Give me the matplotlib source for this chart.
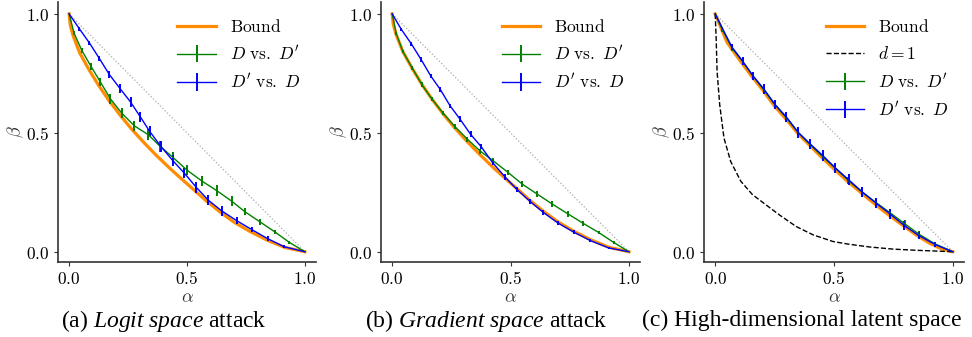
import numpy as np
import matplotlib
matplotlib.use("Agg")
import matplotlib.pyplot as plt

plt.rcParams["mathtext.fontset"] = "cm"
plt.rcParams["mathtext.rm"] = "Liberation Serif"
plt.rcParams["mathtext.it"] = "Liberation Serif:italic"

# ---- data ----
tick_vals = [0.0, 0.5, 1.0]
tick_labels = [r"$0.0$", r"$0.5$", r"$1.0$"]

# (a) logit space attack
bound_a_x = [0, 0.005, 0.017, 0.045, 0.085, 0.126, 0.168, 0.215, 0.264, 0.318, 0.372, 0.427, 0.477, 0.526, 0.583, 0.639, 0.70, 0.766, 0.837, 0.915, 1.0]
bound_a_y = [1.0, 0.952, 0.908, 0.836, 0.764, 0.698, 0.637, 0.576, 0.517, 0.458, 0.403, 0.351, 0.306, 0.263, 0.213, 0.168, 0.124, 0.086, 0.050, 0.018, 0.0]
green_a_x = [0, 0.021, 0.054, 0.093, 0.133, 0.175, 0.223, 0.277, 0.336, 0.386, 0.439, 0.499, 0.562, 0.626, 0.689, 0.746, 0.809, 0.873, 0.933, 1.0]
green_a_y = [1.0, 0.919, 0.846, 0.779, 0.713, 0.643, 0.583, 0.529, 0.492, 0.443, 0.398, 0.344, 0.298, 0.257, 0.213, 0.168, 0.126, 0.083, 0.040, 0.0]
green_a_err = [0, 0.008, 0.012, 0.015, 0.018, 0.02, 0.022, 0.022, 0.022, 0.022, 0.022, 0.022, 0.022, 0.022, 0.02, 0.015, 0.012, 0.008, 0.006, 0]
blue_a_x = [0, 0.043, 0.086, 0.128, 0.170, 0.216, 0.261, 0.302, 0.341, 0.389, 0.439, 0.489, 0.540, 0.590, 0.647, 0.710, 0.775, 0.842, 0.912, 1.0]
blue_a_y = [1.0, 0.938, 0.878, 0.813, 0.746, 0.686, 0.629, 0.567, 0.507, 0.443, 0.384, 0.330, 0.270, 0.217, 0.172, 0.131, 0.093, 0.055, 0.021, 0.0]
blue_a_err = [0, 0.008, 0.01, 0.012, 0.015, 0.018, 0.02, 0.02, 0.02, 0.022, 0.022, 0.022, 0.022, 0.022, 0.02, 0.016, 0.012, 0.01, 0.006, 0]

# (b) gradient space attack
bound_b_x = [0, 0.005, 0.017, 0.045, 0.085, 0.126, 0.168, 0.215, 0.264, 0.318, 0.372, 0.427, 0.477, 0.526, 0.583, 0.639, 0.70, 0.766, 0.837, 0.915, 1.0]
bound_b_y = [1.0, 0.955, 0.912, 0.842, 0.770, 0.703, 0.642, 0.580, 0.521, 0.462, 0.407, 0.354, 0.309, 0.266, 0.215, 0.170, 0.126, 0.087, 0.051, 0.019, 0.0]
green_b_x = [0, 0.017, 0.045, 0.085, 0.126, 0.168, 0.215, 0.264, 0.318, 0.372, 0.427, 0.49, 0.55, 0.613, 0.677, 0.741, 0.806, 0.872, 0.936, 1.0]
green_b_y = [1.0, 0.919, 0.842, 0.772, 0.702, 0.642, 0.583, 0.527, 0.473, 0.423, 0.382, 0.333, 0.284, 0.242, 0.200, 0.160, 0.120, 0.081, 0.039, 0.0]
green_b_err = [0, 0.006, 0.008, 0.01, 0.01, 0.01, 0.01, 0.01, 0.01, 0.01, 0.012, 0.012, 0.012, 0.012, 0.012, 0.012, 0.01, 0.008, 0.006, 0]
blue_b_x = [0, 0.038, 0.081, 0.123, 0.163, 0.204, 0.245, 0.287, 0.331, 0.375, 0.424, 0.477, 0.526, 0.583, 0.639, 0.70, 0.766, 0.837, 0.915, 1.0]
blue_b_y = [1.0, 0.936, 0.874, 0.807, 0.739, 0.681, 0.613, 0.557, 0.494, 0.443, 0.375, 0.314, 0.263, 0.211, 0.165, 0.121, 0.083, 0.047, 0.016, 0.0]
blue_b_err = [0, 0.006, 0.008, 0.01, 0.01, 0.01, 0.01, 0.012, 0.012, 0.012, 0.012, 0.012, 0.01, 0.01, 0.01, 0.008, 0.008, 0.006, 0.005, 0]

# (c) high-dimensional latent space
bound_c_x = [0, 0.05, 0.1, 0.15, 0.2, 0.25, 0.3, 0.35, 0.4, 0.45, 0.5, 0.55, 0.6, 0.65, 0.7, 0.75, 0.8, 0.85, 0.9, 0.95, 1.0]
bound_c_y = [1.0, 0.88, 0.81, 0.742, 0.68, 0.612, 0.555, 0.495, 0.445, 0.395, 0.348, 0.302, 0.26, 0.218, 0.178, 0.14, 0.103, 0.068, 0.037, 0.013, 0.0]
d1_x = [0, 0.004, 0.008, 0.019, 0.037, 0.065, 0.108, 0.157, 0.214, 0.27, 0.341, 0.412, 0.496, 0.56, 0.65, 0.75, 0.85, 0.93, 1.0]
d1_y = [1.0, 0.898, 0.758, 0.618, 0.478, 0.38, 0.296, 0.24, 0.197, 0.155, 0.106, 0.071, 0.043, 0.032, 0.02, 0.011, 0.006, 0.003, 0.0]
green_c_x = [0, 0.03, 0.072, 0.115, 0.16, 0.205, 0.25, 0.3, 0.35, 0.4, 0.452, 0.505, 0.56, 0.617, 0.675, 0.737, 0.797, 0.857, 0.925, 1.0]
green_c_y = [1.0, 0.933, 0.855, 0.80, 0.738, 0.68, 0.62, 0.562, 0.50, 0.45, 0.40, 0.352, 0.30, 0.252, 0.208, 0.163, 0.118, 0.074, 0.033, 0.0]
green_c_err = [0, 0.01, 0.012, 0.012, 0.015, 0.015, 0.015, 0.015, 0.015, 0.015, 0.015, 0.015, 0.015, 0.015, 0.015, 0.015, 0.015, 0.012, 0.01, 0]
blue_c_x = [0, 0.07, 0.115, 0.16, 0.205, 0.251, 0.3, 0.35, 0.399, 0.452, 0.506, 0.561, 0.618, 0.676, 0.737, 0.796, 0.857, 0.926, 1.0]
blue_c_y = [1.0, 0.861, 0.802, 0.738, 0.684, 0.620, 0.566, 0.501, 0.454, 0.405, 0.352, 0.303, 0.252, 0.205, 0.158, 0.110, 0.068, 0.030, 0.0]
blue_c_err = [0, 0.012, 0.015, 0.018, 0.02, 0.02, 0.022, 0.022, 0.022, 0.022, 0.022, 0.022, 0.02, 0.02, 0.02, 0.018, 0.015, 0.012, 0]

captions = [r"(a) $\mathit{Logit\ space}$ attack",
            r"(b) $\mathit{Gradient\ space}$ attack",
            "(c) High-dimensional latent space"]
caption_x = [0.1682, 0.5, 0.825]

lbl_bound = r"$\mathrm{Bound}$"
lbl_d1 = r"$d = 1$"
lbl_g = r"$D\ \mathrm{vs.}\ D'$"
lbl_b = r"$D'\ \mathrm{vs.}\ D$"

fig = plt.figure(figsize=(9.72, 3.37), dpi=100)
rects = [[0.0597, 0.2226, 0.2654, 0.7715],
         [0.392, 0.2226, 0.2665, 0.7715],
         [0.7243, 0.2226, 0.2675, 0.7715]]
panels = [
    (bound_a_x, bound_a_y, None, None, green_a_x, green_a_y, green_a_err, blue_a_x, blue_a_y, blue_a_err),
    (bound_b_x, bound_b_y, None, None, green_b_x, green_b_y, green_b_err, blue_b_x, blue_b_y, blue_b_err),
    (bound_c_x, bound_c_y, d1_x, d1_y, green_c_x, green_c_y, green_c_err, blue_c_x, blue_c_y, blue_c_err),
]

for i, p in enumerate(panels):
    bx, by, dx, dy, gx, gy, ge, ux, uy, ue = p
    ax = fig.add_axes(rects[i])
    ax.plot([0, 1], [1, 0], ls=":", color="#aaaaaa", lw=0.9)
    ax.plot(bx, by, color="darkorange", lw=2.3, label=lbl_bound)
    if dx is not None:
        ax.plot(dx, dy, color="black", ls="--", lw=1.0, label=lbl_d1)
    ax.errorbar(gx, gy, yerr=ge, color="green", lw=1.0, elinewidth=1.4, label=lbl_g)
    ax.errorbar(ux, uy, yerr=ue, color="blue", lw=1.0, elinewidth=1.4, label=lbl_b)
    ax.set_xlim(-0.047, 1.047)
    ax.set_ylim(-0.043, 1.05)
    ax.set_xticks(tick_vals)
    ax.set_xticklabels(tick_labels, fontsize=12.5)
    ax.set_yticks(tick_vals)
    ax.set_yticklabels(tick_labels, fontsize=12.5)
    ax.tick_params(length=3, width=0.8, color="#333333", pad=3)
    for s in ["top", "right"]:
        ax.spines[s].set_visible(False)
    for s in ["left", "bottom"]:
        ax.spines[s].set_color("#333333")
        ax.spines[s].set_linewidth(1.2)
    ax.set_xlabel(r"$\alpha$", fontsize=13, labelpad=0, color="#333333")
    ax.set_ylabel(r"$\beta$", fontsize=13, labelpad=0, color="#333333")
    ax.legend(loc="upper right", bbox_to_anchor=(1.0, 1.0), frameon=False, fontsize=12.5,
              handlelength=2.2, labelspacing=0.55, handletextpad=0.8)
    fig.text(caption_x[i], 0.048, captions[i], ha="center", va="center", fontsize=17,
             family="Liberation Serif", math_fontfamily="custom")

fig.savefig("out.png", dpi=100)
